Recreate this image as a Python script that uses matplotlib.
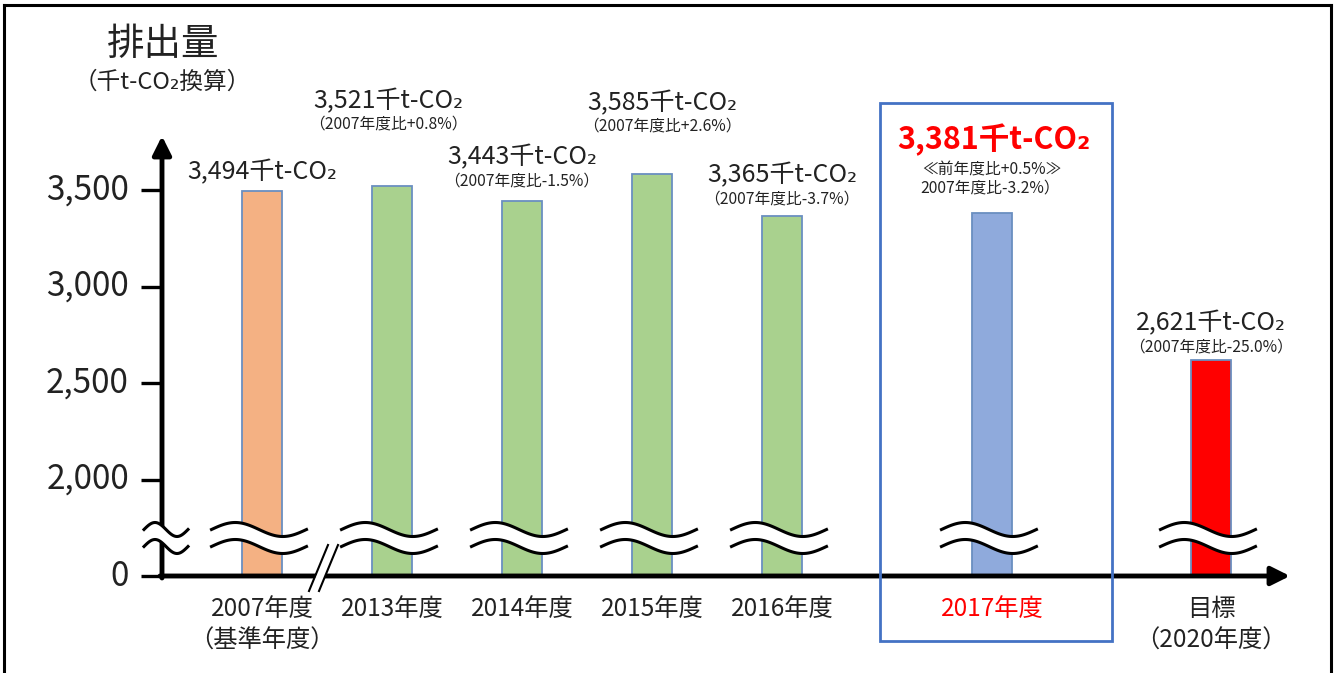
import numpy as np
import matplotlib.pyplot as plt
from matplotlib.lines import Line2D
from matplotlib.patches import Rectangle, Polygon

plt.rcParams['font.family'] = ['Noto Sans CJK JP', 'DejaVu Sans']

## Data
categories = ['2007年度', '2013年度', '2014年度', '2015年度', '2016年度', '2017年度', '目標']
sub_categories = ['（基準年度）', '', '', '', '', '', '（2020年度）']
emissions = [3494, 3521, 3443, 3585, 3365, 3381, 2621]  # 千t-CO2
ratios = ['', '（2007年度比+0.8%）', '（2007年度比-1.5%）', '（2007年度比+2.6%）',
          '（2007年度比-3.7%）', '2007年度比-3.2%）', '（2007年度比-25.0%）']
prev_year_ratio = '≪前年度比+0.5%≫'
ytick_values = [2000, 2500, 3000, 3500]
bar_colors = ['#F4B183', '#A9D18E', '#A9D18E', '#A9D18E', '#A9D18E', '#8FAADC', '#FF0000']

# layout (slot positions of the bars, 2017 and target are spaced wider)
slots = [0, 1, 2, 3, 4, 5.615, 7.3]
BASE = 1500  # value drawn at the "0" of the broken axis

W, H = 1335, 673
UNIT = 2000 / 386  # data units per pixel


def X(px):
    return (px - 262) / 130


def Y(py):
    return BASE + (576 - py) * UNIT


def ptext(px, py, s, **kw):
    fig.text(px / W, 1 - py / H, s, ha='center', va='center', **kw)


fig = plt.figure(figsize=(W / 100, H / 100), dpi=100)
fig.patch.set_facecolor('white')
ax = fig.add_axes([0, 0, 1, 1])
ax.set_xlim(X(0), X(W))
ax.set_ylim(Y(H), Y(0))
ax.axis('off')

# bars
ax.bar(slots, [v - BASE for v in emissions], bottom=BASE, width=40 / 130,
       color=bar_colors, edgecolor='#6A8FC0', linewidth=1.3, zorder=2)

# axes with arrows
ax.annotate('', xy=(X(162), Y(136)), xytext=(X(162), Y(578)),
            arrowprops=dict(arrowstyle='-|>', lw=3.5, color='black', mutation_scale=28,
                            shrinkA=0, shrinkB=0), zorder=5)
ax.annotate('', xy=(X(1290), Y(576)), xytext=(X(160), Y(576)),
            arrowprops=dict(arrowstyle='-|>', lw=3.5, color='black', mutation_scale=28,
                            shrinkA=0, shrinkB=0), zorder=5)

# y ticks
for v in [BASE] + ytick_values:
    ax.plot([X(141), X(162)], [v, v], color='black', lw=2.4, zorder=5, solid_capstyle='butt')
    lab = '0' if v == BASE else f'{v:,}'
    ax.text(X(129), v, lab, ha='right', va='center', fontsize=24, color='#222222')


# wave breaks
def wave(xc, w, yc, lw=2.2):
    t = np.linspace(0, 1, 80)
    xs = xc - w / 2 + w * t
    A = 7 * UNIT
    gap = 17 * UNIT
    up = yc + gap / 2 + A * np.sin(2 * np.pi * t)
    lo = yc - gap / 2 + A * np.sin(2 * np.pi * t)
    ax.fill_between(xs, lo, up, color='white', zorder=6, lw=0)
    ax.plot(xs, up, color='black', lw=lw, zorder=7)
    ax.plot(xs, lo, color='black', lw=lw, zorder=7)


ybreak = Y(538)
for s in slots:
    wave(s - 3 / 130, 95 / 130, ybreak)
wave(X(166), 44 / 130, ybreak)

# "//" mark on the x axis
ax.add_patch(Polygon([(X(311), Y(590)), (X(329), Y(545)), (X(337), Y(545)), (X(319), Y(590))],
                     closed=True, color='white', zorder=6))
ax.plot([X(309), X(328)], [Y(591), Y(545)], color='black', lw=1.5, zorder=7)
ax.plot([X(319), X(338)], [Y(591), Y(545)], color='black', lw=1.5, zorder=7)

# highlight box for 2017
ax.add_patch(Rectangle((X(880), Y(641)), X(1112) - X(880), Y(103) - Y(641),
                       fill=False, edgecolor='#4472C4', lw=2, zorder=8))

# y label
ptext(163, 45, '排出量', fontsize=27, color='#222222')
ptext(162, 82, '（千t-CO₂換算）', fontsize=17, color='#222222')

# value labels
main_pos = [(262, 172), (388, 101), (522, 157), (662, 103), (782, 175), (994, 140), (1211, 323)]
sub_pos = [None, (388, 124), (522, 181), (662, 126), (782, 199), (990, 188), (1211, 347)]
for i, v in enumerate(emissions):
    px, py = main_pos[i]
    if categories[i] == '2017年度':
        ptext(px, py, f'{v:,}千t-CO₂', fontsize=22, color='#FF0000', fontweight='bold')
        ptext(992, 170, prev_year_ratio, fontsize=11.3, color='#222222')
    else:
        ptext(px, py, f'{v:,}千t-CO₂', fontsize=18, color='#222222')
    if sub_pos[i] is not None:
        ptext(sub_pos[i][0], sub_pos[i][1], ratios[i], fontsize=11.3, color='#222222')

# category labels
for i, c in enumerate(categories):
    px = 262 + 130 * slots[i]
    col = '#FF0000' if c == '2017年度' else '#222222'
    ptext(px, 609, c, fontsize=17.5, color=col)
    if sub_categories[i]:
        ptext(px, 641, sub_categories[i], fontsize=17.5, color=col)

# outer frame
for xs, ys in [([4, 4], [5, H]), ([4, 1331], [5, 5]), ([1331, 1331], [5, H])]:
    fig.add_artist(Line2D([x / W for x in xs], [1 - y / H for y in ys], color='black', lw=2.2))

plt.savefig('out.png', dpi=100, facecolor='white')
